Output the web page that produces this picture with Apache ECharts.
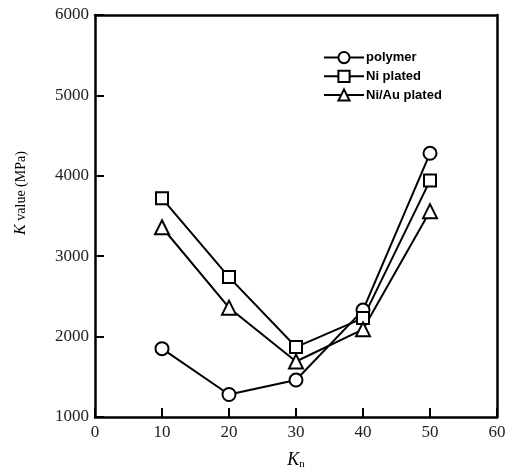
<html>
  <head>
    <meta charset="utf-8">
    <style>
      html, body { margin: 0; padding: 0; background: #fff; }
      #chart { width: 515px; height: 475px; }
    </style>
  </head>
  <body>
    <div id="chart"></div>
  </body>
  <script src="https://cdn.jsdelivr.net/npm/echarts@6/dist/echarts.min.js"></script>
  <script>

// data
var kn = [10, 20, 30, 40, 50];
var polymer = [1850, 1280, 1460, 2330, 4280];
var niPlated = [3720, 2740, 1870, 2230, 3940];
var niAuPlated = [3360, 2360, 1690, 2090, 3560];

var xTicks = [0, 10, 20, 30, 40, 50, 60];
var yTicks = [1000, 2000, 3000, 4000, 5000, 6000];

var serif = '"Liberation Serif", "DejaVu Serif", serif';
var sans = '"Liberation Sans", Arial, sans-serif';

function pairs(vals) {
  var out = [];
  for (var i = 0; i < kn.length; i++) {
    out.push([kn[i], vals[i]]);
  }
  return out;
}

function makeSeries(name, vals, symbol, size) {
  return {
    name: name,
    type: 'line',
    data: pairs(vals),
    symbol: symbol,
    symbolSize: size,
    showAllSymbol: true,
    lineStyle: { color: '#000', width: 2 },
    itemStyle: { color: '#fff', borderColor: '#000', borderWidth: 2 },
    emphasis: { disabled: true },
    z: 3
  };
}

var chart = echarts.init(document.getElementById('chart'));

var option = {
  animation: false,
  backgroundColor: '#fff',
  grid: { left: 95, right: 18, top: 15, bottom: 56 },
  legend: {
    left: 318,
    top: 46,
    orient: 'vertical',
    itemWidth: 40,
    itemHeight: 14,
    itemGap: 5.5,
    textStyle: { fontFamily: sans, fontWeight: 'bold', fontSize: 13, color: '#000', padding: [0, 0, 0, -3] },
    data: ['polymer', 'Ni plated', 'Ni/Au plated']
  },
  xAxis: [
    {
      type: 'value',
      min: xTicks[0],
      max: xTicks[xTicks.length - 1],
      interval: 10,
      name: '{k|K}{n|n}',
      nameLocation: 'middle',
      nameGap: 34,
      nameTextStyle: {
        rich: {
          k: { fontFamily: serif, fontStyle: 'italic', fontSize: 18, color: '#000' },
          n: { fontFamily: serif, fontSize: 11, color: '#000', verticalAlign: 'bottom', padding: [8, 0, 0, 0] }
        }
      },
      axisLine: { onZero: false, lineStyle: { color: '#000', width: 2.5 } },
      axisTick: { inside: true, length: 9, lineStyle: { color: '#000', width: 2 } },
      axisLabel: { fontFamily: serif, fontSize: 17, color: '#222', margin: 7 },
      splitLine: { show: false }
    },
    {
      type: 'value',
      position: 'top',
      min: xTicks[0],
      max: xTicks[xTicks.length - 1],
      interval: 10,
      axisLine: { onZero: false, lineStyle: { color: '#000', width: 2.5 } },
      axisTick: { show: false },
      axisLabel: { show: false },
      splitLine: { show: false }
    }
  ],
  yAxis: [
    {
      type: 'value',
      min: yTicks[0],
      max: yTicks[yTicks.length - 1],
      interval: 1000,
      name: '{k|K} value (MPa)',
      nameLocation: 'middle',
      nameGap: 66,
      nameRotate: 90,
      nameTextStyle: {
        fontFamily: serif,
        fontSize: 14,
        color: '#000',
        padding: [0, 0, 0, 46],
        rich: {
          k: { fontFamily: serif, fontStyle: 'italic', fontSize: 16, color: '#000' }
        }
      },
      axisLine: { onZero: false, lineStyle: { color: '#000', width: 2.5 } },
      axisTick: { inside: true, length: 9, lineStyle: { color: '#000', width: 2 } },
      axisLabel: {
        fontFamily: serif, fontSize: 17, color: '#222', margin: 6,
        formatter: function (v) { return String(v); }
      },
      splitLine: { show: false }
    },
    {
      type: 'value',
      position: 'right',
      min: yTicks[0],
      max: yTicks[yTicks.length - 1],
      interval: 1000,
      axisLine: { show: true, onZero: false, lineStyle: { color: '#000', width: 2.5 } },
      axisTick: { show: false },
      axisLabel: { show: false },
      splitLine: { show: false }
    }
  ],
  series: [
    makeSeries('polymer', polymer, 'circle', 13),
    makeSeries('Ni plated', niPlated, 'rect', 12),
    makeSeries('Ni/Au plated', niAuPlated, 'triangle', 14)
  ]
};

chart.setOption(option);
  </script>
</html>
